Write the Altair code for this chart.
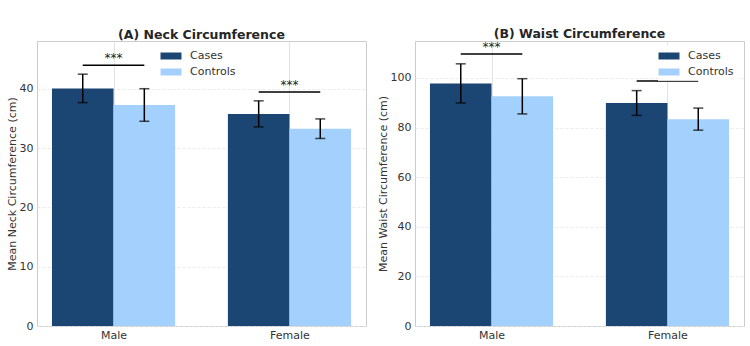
import json
import altair as alt
import pandas as pd

groups = ["Male", "Female"]
series = ["Cases", "Controls"]
colors = ["#1b4572", "#a3d0fc"]

neck_cases_mean = [40.1, 35.8]
neck_cases_sd = [2.4, 2.2]
neck_ctrl_mean = [37.3, 33.3]
neck_ctrl_sd = [2.75, 1.65]
neck_bracket = [44.0, 39.5]

waist_cases_mean = [97.8, 89.9]
waist_cases_sd = [7.9, 5.0]
waist_ctrl_mean = [92.6, 83.4]
waist_ctrl_sd = [7.1, 4.45]
waist_bracket = [109.7, 98.8]

sig_labels = ["***", "***"]

FONT = "DejaVu Sans"
BAR_W = 0.35


def panel(title, ytitle, cm, csd, km, ksd, bracket, ymax, yticks, legend_x):
    rows = []
    for i, g in enumerate(groups):
        for s, m, sd in ((series[0], cm[i], csd[i]), (series[1], km[i], ksd[i])):
            rows.append({"idx": i, "group": g, "series": s, "mean": m, "sd": sd})
    df = pd.DataFrame(rows)
    bdf = pd.DataFrame({"idx": list(range(len(groups))), "y": bracket, "label": sig_labels})

    xscale = alt.Scale(domain=[-0.435, 1.435], nice=False, zero=False)
    yscale = alt.Scale(domain=[0, ymax], nice=False)
    xaxis = alt.Axis(
        values=list(range(len(groups))),
        labelExpr=f"{json.dumps(groups)}[datum.value]",
        title=None, ticks=False, domain=False, grid=True,
        gridColor="#e3e3e3", gridWidth=1, labelPadding=3,
    )
    yaxis = alt.Axis(
        values=yticks, title=ytitle, ticks=False, domain=False, grid=True,
        gridColor="#e6e6e6", gridDash=[3, 2], gridWidth=0.8, labelPadding=4,
        titlePadding=2,
    )

    base = alt.Chart(df).transform_calculate(
        x0=f"datum.idx + (datum.series == '{series[0]}' ? {-BAR_W} : 0)",
        x1=f"datum.idx + (datum.series == '{series[0]}' ? 0 : {BAR_W})",
        xc=f"datum.idx + (datum.series == '{series[0]}' ? {-BAR_W/2} : {BAR_W/2})",
        lo="datum.mean - datum.sd",
        hi="datum.mean + datum.sd",
    )

    bars = base.mark_bar().encode(
        x=alt.X("x0:Q", scale=xscale, axis=xaxis),
        x2="x1:Q",
        y=alt.Y("mean:Q", scale=yscale, axis=yaxis),
        y2=alt.datum(0),
        color=alt.Color(
            "series:N",
            scale=alt.Scale(domain=series, range=colors),
            legend=alt.Legend(
                title=None, orient="none", legendX=legend_x, legendY=4,
                symbolType="M-1.5,-0.5H1.5V0.5H-1.5Z", symbolSize=196,
                symbolStrokeWidth=0, labelOffset=12, rowPadding=4,
                fillColor="rgba(255,255,255,0.8)", padding=4,
                labelFontSize=11, labelColor="#333333", labelFont=FONT,
            ),
        ),
    )
    err = base.mark_rule(color="black", strokeWidth=1.5).encode(
        x=alt.X("xc:Q", scale=xscale), y=alt.Y("lo:Q", scale=yscale), y2="hi:Q"
    )
    caps = base.transform_fold(["lo", "hi"], as_=["end", "val"]).mark_tick(
        color="black", orient="horizontal", size=10, thickness=1.5
    ).encode(x=alt.X("xc:Q", scale=xscale), y=alt.Y("val:Q", scale=yscale))

    bb = alt.Chart(bdf).transform_calculate(
        bx0=f"datum.idx - {BAR_W/2}", bx1=f"datum.idx + {BAR_W/2}"
    )
    brk = bb.mark_rule(color="black", strokeWidth=1.5).encode(
        x=alt.X("bx0:Q", scale=xscale), x2="bx1:Q", y=alt.Y("y:Q", scale=yscale)
    )
    txt = bb.mark_text(
        baseline="alphabetic", dy=-3, fontSize=12, font=FONT
    ).encode(
        x=alt.X("idx:Q", scale=xscale), y=alt.Y("y:Q", scale=yscale), text="label:N",
        color=alt.value("#222222"),
    )

    return alt.layer(bars, err, caps, brk, txt).properties(
        width=329, height=285,
        title=alt.TitleParams(title, fontSize=12.5, font=FONT, fontWeight="bold",
                              color="#262626", offset=0),
    )


a = panel("(A) Neck Circumference", "Mean Neck Circumference (cm)",
          neck_cases_mean, neck_cases_sd, neck_ctrl_mean, neck_ctrl_sd,
          neck_bracket, 48.1, [0, 10, 20, 30, 40], 123)
b = panel("(B) Waist Circumference", "Mean Waist Circumference (cm)",
          waist_cases_mean, waist_cases_sd, waist_ctrl_mean, waist_ctrl_sd,
          waist_bracket, 114.9, [0, 20, 40, 60, 80, 100], 243)

chart = alt.hconcat(a, b, spacing=9).resolve_legend(color="independent").properties(
    padding={"left": 5, "top": 27, "right": 2, "bottom": 0},
    background="white",
).configure_view(stroke="#cccccc", strokeWidth=1).configure_axis(
    labelFont=FONT, titleFont=FONT, labelFontSize=11, titleFontSize=11,
    labelColor="#333333", titleColor="#333333", titleFontWeight="normal",
)

chart.save("out.html", embed_options={"renderer": "svg", "actions": False})
